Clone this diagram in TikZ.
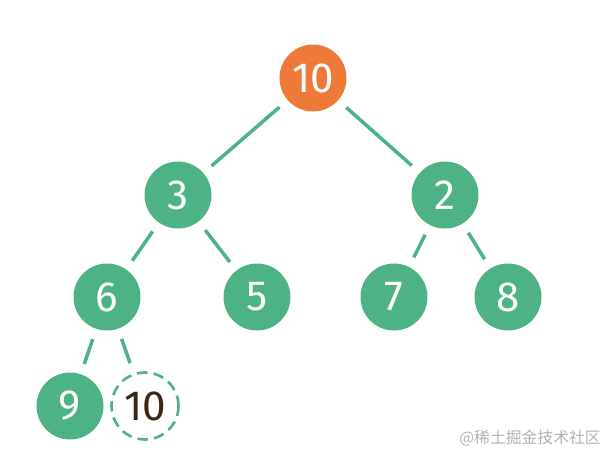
\documentclass[tikz,border=0pt]{standalone}
\usepackage{fontspec}
\setmainfont{Fira Sans}
\newfontfamily\cjk{Noto Sans CJK SC}
\definecolor{heapgreen}{HTML}{4DB386}
\definecolor{heaporange}{HTML}{EE7A3A}
\definecolor{digitbrown}{HTML}{3A2616}

\begin{document}
\begin{tikzpicture}[x=0.02cm, y=-0.02cm]
        \tikzset{vertex/.style = {shape=circle, fill=heapgreen, text=white, inner sep=0pt,
                minimum size=1.34cm, font=\fontsize{24}{24}\selectfont}}
        \tikzset{root/.style = {vertex, fill=heaporange}}
        \tikzset{newvertex/.style = {vertex, fill=white, draw=heapgreen, line width=1.5pt,
                dash pattern=on 6pt off 3.5pt, text=digitbrown}}
        \tikzset{edge/.style = {heapgreen, line width=2pt, shorten <=6pt, shorten >=6pt}}
        \useasboundingbox (0,0) rectangle (606,458);
        % vertices
        \node[root] (r10) at (313,78) {10};
        \node[vertex] (n3) at (178,195) {3};
        \node[vertex] (n2) at (445,195) {2};
        \node[vertex] (n6) at (107,297) {6};
        \node[vertex] (n5) at (257,297) {5};
        \node[vertex] (n7) at (394,297) {7};
        \node[vertex] (n8) at (508,297) {8};
        \node[vertex] (n9) at (70,406) {9};
        \node[newvertex] (n10) at (145,406) {10};
        %edges
        \draw[edge] (r10) to (n3);
        \draw[edge] (r10) to (n2);
        \draw[edge] (n3) to (n6);
        \draw[edge] (n3) to (n5);
        \draw[edge] (n2) to (n7);
        \draw[edge] (n2) to (n8);
        \draw[edge] (n6) to (n9);
        \draw[edge] (n6) to (n10);
        % watermark
        \node[text=black!30, font=\cjk\fontsize{9}{9}\selectfont] (mark) at (530,438) {@稀土掘金技术社区};
\end{tikzpicture}
\end{document}
